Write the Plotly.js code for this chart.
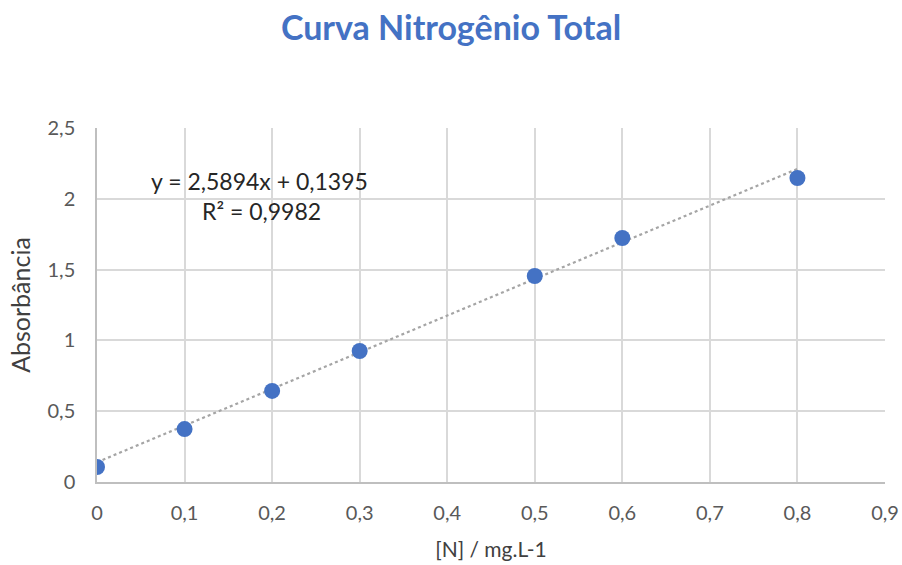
<!DOCTYPE html>
<html>
<head>
<meta charset="utf-8">
<script src="https://cdn.plot.ly/plotly-3.0.1.min.js"></script>
<style>html,body{margin:0;padding:0;background:#fff;}#chart{width:902px;height:565px;}</style>
</head>
<body>
<div id="chart"></div>
<script>
// Calibration points: concentration [N] (mg/L) and measured absorbance
const concentration = [0, 0.1, 0.2, 0.3, 0.5, 0.6, 0.8];
const absorbance = [0.106, 0.374, 0.643, 0.925, 1.455, 1.723, 2.147];

// Linear fit reported on the chart
const slope = 2.5894;
const intercept = 0.1395;
const rSquared = 0.9982;
const fitRange = [0, 0.8];

const xTicks = [0, 0.1, 0.2, 0.3, 0.4, 0.5, 0.6, 0.7, 0.8, 0.9];
const yTicks = [0, 0.5, 1, 1.5, 2, 2.5];

const fmt = v => String(v).replace('.', ',');

const fitX = fitRange;
const fitY = fitRange.map(x => slope * x + intercept);

const font = "Lato, 'Open Sans', sans-serif";

const traces = [
  {
    x: fitX, y: fitY, type: 'scatter', mode: 'lines',
    line: {color: '#A5A5A5', width: 2.2, dash: 'dot'},
    hoverinfo: 'skip', showlegend: false
  },
  {
    x: concentration, y: absorbance, type: 'scatter', mode: 'markers',
    marker: {color: '#4472C4', size: 16},
    showlegend: false
  }
];

const layout = {
  width: 902, height: 565,
  margin: {l: 97, r: 17, t: 128, b: 83},
  paper_bgcolor: '#fff', plot_bgcolor: '#fff',
  separators: ',.',
  font: {family: font, color: '#595959', size: 20},
  title: {
    text: '<b>Curva Nitrogênio Total</b>',
    font: {family: font, size: 34, color: '#4472C4'},
    x: 0.5, xanchor: 'center', y: 0.95, yanchor: 'middle'
  },
  xaxis: {
    range: [0, 0.9], tickvals: xTicks, ticktext: xTicks.map(fmt),
    showgrid: true, gridcolor: '#D9D9D9', gridwidth: 1.5,
    zeroline: false, showline: true, linecolor: '#BFBFBF', linewidth: 1.5,
    ticks: '', ticklabelstandoff: 12,
    title: {text: '[N] / mg.L-1', font: {family: font, size: 21, color: '#404040'}, standoff: 20}
  },
  yaxis: {
    range: [0, 2.5], tickvals: yTicks, ticktext: yTicks.map(fmt),
    showgrid: true, gridcolor: '#D9D9D9', gridwidth: 1.5,
    zeroline: false, showline: true, linecolor: '#BFBFBF', linewidth: 1.5,
    ticks: '', ticklabelstandoff: 16,
    title: {text: 'Absorbância', font: {family: font, size: 25, color: '#404040'}, standoff: 10}
  },
  annotations: [
    {
      xref: 'paper', yref: 'paper', x: (259 - 97) / 788, y: (482 - 181) / 354,
      text: 'y = ' + fmt(slope) + 'x + ' + fmt(intercept),
      showarrow: false, xanchor: 'center', yanchor: 'middle',
      font: {family: font, size: 23, color: '#262626'}
    },
    {
      xref: 'paper', yref: 'paper', x: (261 - 97) / 788, y: (482 - 211) / 354,
      text: 'R² = ' + fmt(rSquared),
      showarrow: false, xanchor: 'center', yanchor: 'middle',
      font: {family: font, size: 23, color: '#262626'}
    }
  ]
};

Plotly.newPlot('chart', traces, layout, {displayModeBar: false, responsive: false});
</script>
</body>
</html>
